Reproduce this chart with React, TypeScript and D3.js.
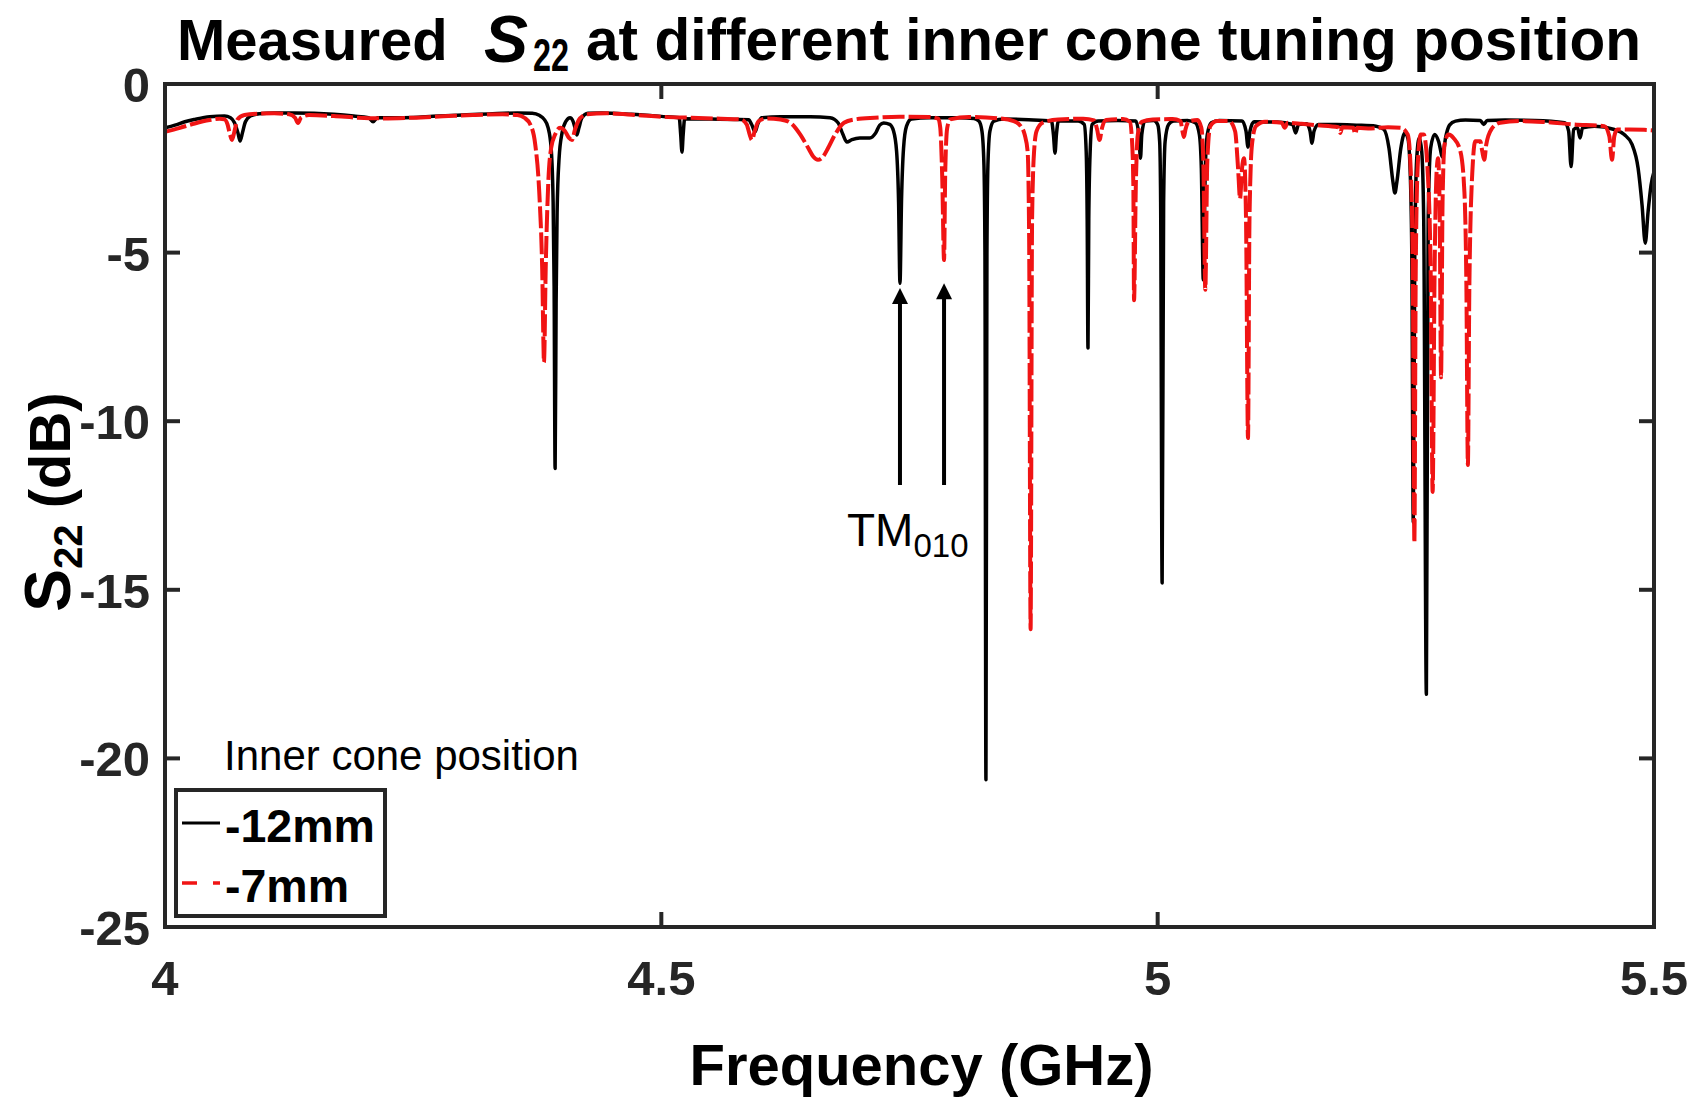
import React from 'react';
import * as d3 from 'd3';

const FONT = '"Liberation Sans", Arial, Helvetica, sans-serif';
const AXIS_COLOR = '#262626';
const RED = '#f01414';

// Axis ticks
const xTicks = [4, 4.5, 5, 5.5];
const xTickLabels = ['4', '4.5', '5', '5.5'];
const yTicks = [0, -5, -10, -15, -20, -25];
const yTickLabels = ['0', '-5', '-10', '-15', '-20', '-25'];

// Legend entries
const legendTitle = 'Inner cone position';
const seriesNames = ['-12mm', '-7mm'];

// Measured S22 (frequency in GHz, magnitude in dB), inner cone at -12 mm
const s22Minus12: [number, number][] = [
  [4.0, -1.3], [4.01, -1.22], [4.02, -1.12], [4.03, -1.05], [4.045, -0.97], [4.06, -0.95],
  [4.066, -1.0], [4.07, -1.15], [4.0735, -1.45], [4.0756, -1.69], [4.078, -1.45], [4.081, -1.12],
  [4.086, -0.95], [4.095, -0.88], [4.11, -0.86], [4.13, -0.86], [4.15, -0.87], [4.17, -0.9],
  [4.19, -0.95], [4.205, -1.0], [4.2096, -1.12], [4.214, -1.0], [4.23, -1.0], [4.25, -0.99],
  [4.27, -0.96], [4.3, -0.92], [4.33, -0.88], [4.355, -0.86], [4.37, -0.87], [4.377, -0.93],
  [4.382, -1.05], [4.386, -1.3], [4.389, -1.9], [4.391, -3.5], [4.392, -6.0], [4.393, -11.4],
  [4.394, -6.5], [4.395, -3.8], [4.397, -2.2], [4.4, -1.45], [4.404, -1.1], [4.408, -1.0],
  [4.411, -1.1], [4.413, -1.3], [4.415, -1.51], [4.417, -1.3], [4.42, -1.0], [4.426, -0.87],
  [4.44, -0.86], [4.47, -0.9], [4.5, -0.96], [4.518, -1.0], [4.5195, -1.5], [4.5208, -2.02],
  [4.522, -1.5], [4.5235, -1.03], [4.55, -1.04], [4.575, -1.05], [4.588, -1.06], [4.591, -1.2],
  [4.5944, -1.42], [4.597, -1.2], [4.601, -1.0], [4.62, -0.97], [4.65, -0.97], [4.67, -1.0],
  [4.678, -1.15], [4.683, -1.5], [4.687, -1.72], [4.692, -1.65], [4.7, -1.6], [4.71, -1.6],
  [4.716, -1.45], [4.72, -1.22], [4.724, -1.16], [4.73, -1.2], [4.734, -1.4], [4.737, -2.0],
  [4.739, -3.5], [4.7404, -5.91], [4.742, -3.4], [4.744, -1.9], [4.747, -1.25], [4.752, -1.04],
  [4.77, -1.0], [4.8, -1.0], [4.815, -1.02], [4.82, -1.1], [4.823, -1.4], [4.825, -2.4],
  [4.826, -5.0], [4.827, -20.63], [4.828, -5.0], [4.829, -2.4], [4.831, -1.4], [4.835, -1.1],
  [4.845, -1.04], [4.87, -1.06], [4.893, -1.1], [4.895, -1.5], [4.8966, -2.05], [4.898, -1.5],
  [4.9, -1.1], [4.92, -1.1], [4.926, -1.2], [4.928, -2.0], [4.929, -4.0], [4.9298, -7.83],
  [4.9306, -4.0], [4.932, -2.0], [4.934, -1.2], [4.94, -1.1], [4.96, -1.08], [4.978, -1.1],
  [4.981, -1.5], [4.9827, -2.2], [4.984, -1.5], [4.987, -1.1], [4.996, -1.08], [5.0, -1.2],
  [5.002, -1.7], [5.003, -3.5], [5.0045, -14.8], [5.006, -3.5], [5.0075, -1.7], [5.011, -1.2],
  [5.016, -1.1], [5.03, -1.08], [5.038, -1.15], [5.042, -1.5], [5.044, -2.5], [5.046, -5.81],
  [5.048, -2.5], [5.05, -1.5], [5.054, -1.15], [5.062, -1.08], [5.085, -1.1], [5.089, -1.4],
  [5.091, -1.87], [5.093, -1.4], [5.097, -1.12], [5.12, -1.13], [5.136, -1.2], [5.139, -1.45],
  [5.142, -1.2], [5.15, -1.18], [5.1535, -1.4], [5.1555, -1.76], [5.1575, -1.4], [5.162, -1.2],
  [5.18, -1.2], [5.2, -1.22], [5.22, -1.25], [5.228, -1.35], [5.233, -1.9], [5.237, -2.9],
  [5.239, -3.23], [5.241, -2.9], [5.245, -1.9], [5.249, -1.45], [5.252, -1.6], [5.254, -2.3],
  [5.256, -5.0], [5.2575, -13.0], [5.259, -5.0], [5.261, -2.2], [5.2635, -1.6], [5.266, -2.0],
  [5.268, -4.0], [5.2707, -18.1], [5.2725, -4.0], [5.275, -1.9], [5.279, -1.5], [5.283, -1.7],
  [5.287, -2.16], [5.29, -1.6], [5.294, -1.22], [5.3, -1.1], [5.31, -1.07], [5.325, -1.08],
  [5.3285, -1.2], [5.332, -1.08], [5.35, -1.07], [5.38, -1.08], [5.41, -1.15], [5.414, -1.4],
  [5.4165, -2.45], [5.419, -1.35], [5.423, -1.3], [5.4255, -1.6], [5.428, -1.3], [5.44, -1.25],
  [5.46, -1.35], [5.47, -1.5], [5.478, -1.8], [5.484, -2.5], [5.488, -3.6], [5.4912, -4.72],
  [5.494, -3.8], [5.497, -3.0], [5.5, -2.6],
];

// Measured S22, inner cone at -7 mm
const s22Minus7: [number, number][] = [
  [4.0, -1.42], [4.015, -1.3], [4.03, -1.17], [4.045, -1.07], [4.055, -1.03], [4.06, -1.05],
  [4.063, -1.2], [4.0655, -1.5], [4.0675, -1.66], [4.07, -1.4], [4.073, -1.05], [4.08, -0.92],
  [4.095, -0.88], [4.11, -0.87], [4.125, -0.9], [4.131, -1.0], [4.134, -1.16], [4.137, -1.0],
  [4.145, -0.92], [4.17, -0.95], [4.195, -1.0], [4.22, -1.02], [4.25, -1.0], [4.28, -0.96],
  [4.31, -0.92], [4.34, -0.9], [4.355, -0.92], [4.362, -1.0], [4.368, -1.2], [4.373, -1.8],
  [4.377, -3.2], [4.38, -5.5], [4.3818, -8.25], [4.3835, -5.5], [4.386, -3.0], [4.389, -1.9],
  [4.393, -1.5], [4.398, -1.3], [4.403, -1.4], [4.407, -1.6], [4.41, -1.66], [4.413, -1.35],
  [4.418, -1.02], [4.425, -0.9], [4.445, -0.87], [4.475, -0.92], [4.5, -0.97], [4.53, -1.0],
  [4.56, -1.03], [4.58, -1.05], [4.586, -1.2], [4.589, -1.5], [4.5913, -1.66], [4.594, -1.4],
  [4.598, -1.1], [4.606, -1.02], [4.62, -1.05], [4.63, -1.15], [4.64, -1.5], [4.648, -1.9],
  [4.653, -2.15], [4.6578, -2.25], [4.663, -2.15], [4.668, -1.9], [4.675, -1.5], [4.684, -1.15],
  [4.695, -1.05], [4.715, -1.0], [4.74, -0.97], [4.77, -0.98], [4.779, -1.03], [4.781, -1.3],
  [4.783, -2.8], [4.7848, -5.22], [4.786, -2.6], [4.788, -1.3], [4.791, -1.05], [4.81, -0.98],
  [4.84, -1.02], [4.855, -1.1], [4.862, -1.25], [4.866, -1.5], [4.869, -2.0], [4.8705, -4.5],
  [4.872, -16.17], [4.8735, -4.0], [4.8755, -2.0], [4.878, -1.4], [4.884, -1.15], [4.9, -1.05],
  [4.925, -1.03], [4.936, -1.08], [4.939, -1.35], [4.9414, -1.66], [4.944, -1.3], [4.948, -1.07],
  [4.965, -1.04], [4.972, -1.12], [4.974, -1.6], [4.9755, -3.0], [4.9762, -6.41], [4.978, -3.0],
  [4.98, -1.5], [4.984, -1.12], [4.995, -1.05], [5.015, -1.04], [5.023, -1.1], [5.025, -1.4],
  [5.0265, -1.57], [5.028, -1.35], [5.032, -1.1], [5.04, -1.07], [5.044, -1.3], [5.046, -2.3],
  [5.048, -6.1], [5.05, -2.3], [5.053, -1.25], [5.06, -1.1], [5.072, -1.1], [5.078, -1.4],
  [5.081, -2.5], [5.083, -3.4], [5.085, -2.5], [5.087, -2.2], [5.089, -4.0], [5.091, -10.5],
  [5.0925, -4.0], [5.095, -1.8], [5.099, -1.25], [5.108, -1.12], [5.125, -1.15], [5.128, -1.3],
  [5.131, -1.15], [5.145, -1.18], [5.16, -1.22], [5.182, -1.28], [5.184, -1.45], [5.186, -1.28],
  [5.197, -1.3], [5.199, -1.48], [5.201, -1.3], [5.215, -1.32], [5.232, -1.28], [5.245, -1.3],
  [5.252, -1.5], [5.255, -2.6], [5.257, -5.5], [5.2586, -13.6], [5.26, -5.5], [5.262, -2.4],
  [5.265, -1.5], [5.268, -1.5], [5.272, -2.6], [5.275, -5.5], [5.277, -12.1], [5.279, -5.5],
  [5.281, -2.6], [5.2825, -2.2], [5.284, -3.5], [5.2855, -8.7], [5.287, -3.5], [5.289, -1.8],
  [5.293, -1.5], [5.298, -1.6], [5.305, -2.0], [5.309, -3.2], [5.311, -6.0], [5.3125, -11.3],
  [5.314, -6.0], [5.317, -2.6], [5.32, -1.7], [5.325, -1.7], [5.327, -2.0], [5.329, -2.25],
  [5.331, -1.8], [5.336, -1.35], [5.345, -1.15], [5.365, -1.1], [5.39, -1.13], [5.42, -1.2],
  [5.45, -1.25], [5.455, -1.55], [5.4577, -2.25], [5.46, -1.55], [5.463, -1.35], [5.475, -1.35],
  [5.49, -1.36], [5.5, -1.38],
];

// TM010 resonance markers: arrow frequency, arrow tip level, shared tail level (dB)
const tmArrowFreqs = [4.7404, 4.7848];
const tmArrowTips = [-6.05, -5.91];
const tmArrowTail = -11.89;

const W = 1707;
const H = 1100;
const PLOT = { left: 165, right: 1654, top: 84, bottom: 927 };
const TICK_LEN = 15;

export default function App() {
  const x = d3.scaleLinear().domain([4, 5.5]).range([PLOT.left, PLOT.right]);
  const y = d3.scaleLinear().domain([-25, 0]).range([PLOT.bottom, PLOT.top]);

  const line = d3
    .line<[number, number]>()
    .x((d) => x(d[0]))
    .y((d) => y(d[1]))
    .curve(d3.curveMonotoneX);

  const arrowHeadLen = 16;
  const arrowHalfW = 8;

  return (
    <div style={{ position: 'absolute', left: 0, top: 0 }}>
      <svg width={W} height={H} viewBox={`0 0 ${W} ${H}`} style={{ display: 'block', background: '#fff' }}>
        <defs>
          <clipPath id="plot-clip">
            <rect x={PLOT.left} y={PLOT.top} width={PLOT.right - PLOT.left} height={PLOT.bottom - PLOT.top} />
          </clipPath>
        </defs>
        <rect x={0} y={0} width={W} height={H} fill="#fff" />

        {/* Title */}
        <g fontFamily={FONT} fontWeight="bold" fill="#000">
          <text x={177} y={60} fontSize={58}>Measured</text>
          <text x={484} y={62} fontSize={66} fontStyle="italic">S</text>
          <text x={533} y={71} fontSize={46} textLength={36} lengthAdjust="spacingAndGlyphs">22</text>
          <text x={586} y={60} fontSize={58.5} textLength={1055} lengthAdjust="spacing">
            at different inner cone tuning position
          </text>
        </g>

        {/* Curves */}
        <g clipPath="url(#plot-clip)">
          <path d={line(s22Minus12) || ''} fill="none" stroke="#000" strokeWidth={3.5} strokeLinejoin="round" />
          <path
            d={line(s22Minus7) || ''}
            fill="none"
            stroke={RED}
            strokeWidth={4}
            strokeDasharray="22 4"
            strokeLinejoin="round"
          />
        </g>

        {/* Axes box and ticks */}
        <g stroke={AXIS_COLOR} strokeWidth={4}>
          {xTicks.slice(1, -1).map((t) => (
            <g key={`xt${t}`}>
              <line x1={x(t)} x2={x(t)} y1={PLOT.bottom} y2={PLOT.bottom - TICK_LEN} />
              <line x1={x(t)} x2={x(t)} y1={PLOT.top} y2={PLOT.top + TICK_LEN} />
            </g>
          ))}
          {yTicks.slice(1, -1).map((t) => (
            <g key={`yt${t}`}>
              <line x1={PLOT.left} x2={PLOT.left + TICK_LEN} y1={y(t)} y2={y(t)} />
              <line x1={PLOT.right} x2={PLOT.right - TICK_LEN} y1={y(t)} y2={y(t)} />
            </g>
          ))}
          <rect
            x={PLOT.left}
            y={PLOT.top}
            width={PLOT.right - PLOT.left}
            height={PLOT.bottom - PLOT.top}
            fill="none"
          />
        </g>

        {/* Tick labels */}
        <g fontFamily={FONT} fontWeight="bold" fontSize={49} fill={AXIS_COLOR}>
          {xTicks.map((t, i) => (
            <text key={`xl${t}`} x={x(t)} y={995} textAnchor="middle">
              {xTickLabels[i]}
            </text>
          ))}
          {yTicks.map((t, i) => (
            <text key={`yl${t}`} x={150} y={y(t) + 18} textAnchor="end">
              {yTickLabels[i]}
            </text>
          ))}
        </g>

        {/* Axis labels */}
        <text x={(PLOT.left + PLOT.right) / 2 + 12} y={1085} textAnchor="middle" fontFamily={FONT} fontWeight="bold" fontSize={58} fill="#000">
          Frequency (GHz)
        </text>
        <text transform="translate(70,502) rotate(-90)" textAnchor="middle" fontFamily={FONT} fontWeight="bold" fill="#000">
          <tspan fontSize={64}>S</tspan>
          <tspan fontSize={40} dy={12}>22</tspan>
          <tspan fontSize={58} dy={-12}>{'  (dB)'}</tspan>
        </text>

        {/* TM010 annotation */}
        <g fill="#000" stroke="none">
          {tmArrowFreqs.map((f, i) => {
            const ax = x(f);
            const tipY = y(tmArrowTips[i]);
            return (
              <g key={`arr${i}`}>
                <line x1={ax} x2={ax} y1={tipY + arrowHeadLen - 2} y2={y(tmArrowTail)} stroke="#000" strokeWidth={4} />
                <polygon
                  points={`${ax},${tipY} ${ax - arrowHalfW},${tipY + arrowHeadLen} ${ax + arrowHalfW},${tipY + arrowHeadLen}`}
                />
              </g>
            );
          })}
          <text x={847} y={546} fontFamily={FONT} fontSize={46}>
            TM
            <tspan fontSize={33} dy={11}>010</tspan>
          </text>
        </g>

        {/* Legend */}
        <text x={224} y={770} fontFamily={FONT} fontSize={42} fill="#000">
          {legendTitle}
        </text>
        <rect x={176} y={790} width={209} height={126} fill="#fff" stroke={AXIS_COLOR} strokeWidth={4} />
        <line x1={182} x2={220} y1={823} y2={823} stroke="#000" strokeWidth={3} />
        <line x1={182} x2={220} y1={883} y2={883} stroke={RED} strokeWidth={3.5} strokeDasharray="15 16" />
        <g fontFamily={FONT} fontWeight="bold" fontSize={46.5} fill="#000">
          <text x={225} y={842}>{seriesNames[0]}</text>
          <text x={225} y={902}>{seriesNames[1]}</text>
        </g>
      </svg>
    </div>
  );
}
